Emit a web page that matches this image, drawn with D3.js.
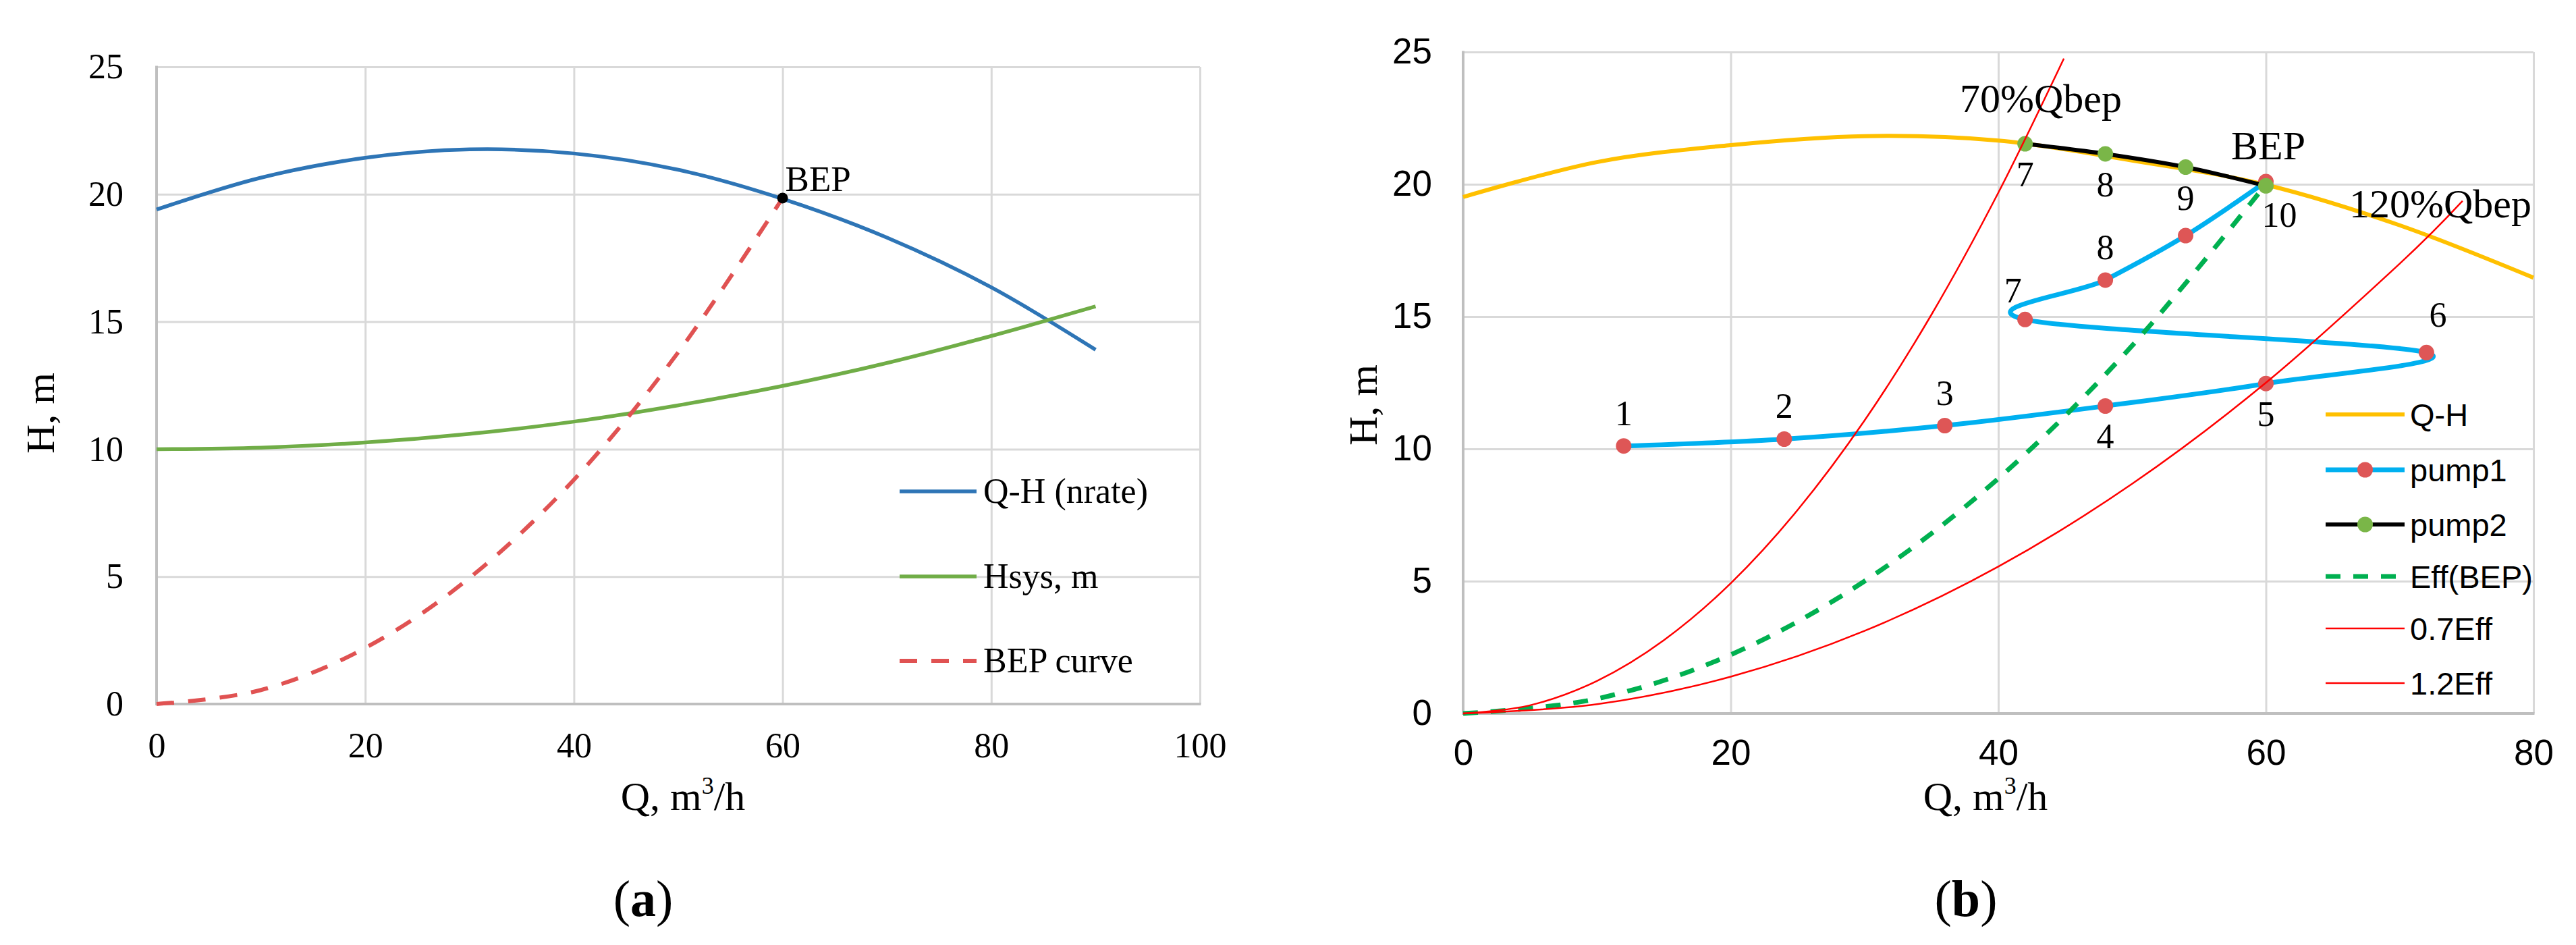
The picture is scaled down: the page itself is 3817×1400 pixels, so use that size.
<!DOCTYPE html>
<html><head><meta charset="utf-8">
<script src="https://cdn.jsdelivr.net/npm/d3@7"></script>
<style>
html,body{margin:0;padding:0;background:#fff;}
svg{display:block;}
</style></head><body>
<svg id="fig" width="3817" height="1400"></svg>
<script>
// ================= DATA : panel (a) =================
const aQ      = [0, 10, 20, 30, 40, 50, 60, 70, 80, 90];
const aQH     = [19.4, 20.65, 21.43, 21.76, 21.6, 20.96, 19.82, 18.3, 16.35, 13.9];
const aHsys   = [10.0, 10.06, 10.26, 10.6, 11.08, 11.72, 12.48, 13.38, 14.44, 15.6];
const aBepQ   = [0, 10, 20, 30, 40, 50, 60];
const aBepH   = [0, 0.55, 2.2, 4.95, 8.8, 13.8, 19.85];
const aBepPointQ = [60];
const aBepPointH = [19.85];
const aBepPointLabel = ["BEP"];
const aLegendNames = ["Q-H (nrate)", "Hsys, m", "BEP curve"];
const aXTicks = [0, 20, 40, 60, 80, 100];
const aYTicks = [0, 5, 10, 15, 20, 25];

// ================= DATA : panel (b) =================
const bQHQ    = [0, 10, 20, 30, 40, 50, 60, 70, 80];
const bQH     = [19.52, 20.84, 21.48, 21.82, 21.65, 20.9, 19.98, 18.45, 16.47];
const pump1Q  = [12, 24, 36, 48, 60, 72, 42, 48, 54, 60];
const pump1H  = [10.11, 10.37, 10.88, 11.62, 12.47, 13.64, 14.89, 16.38, 18.06, 20.1];
const pump1Labels = ["1", "2", "3", "4", "5", "6", "7", "8", "", ""];
const pump2Q  = [42, 48, 54, 60];
const pump2H  = [21.53, 21.15, 20.65, 19.94];
const pump2Labels = ["7", "8", "9", "10"];
const effQ    = [0, 10, 20, 30, 40, 50, 60];
const effH    = [0, 0.555, 2.22, 5.0, 8.88, 13.9, 20.0];
const eff07Q  = [0, 5, 10, 15, 20, 25, 30, 35, 40, 44.9];
const eff07H  = [0, 0.31, 1.23, 2.77, 4.92, 7.69, 11.07, 15.07, 19.68, 24.75];
const eff12Q  = [0, 10, 20, 30, 40, 50, 60, 70, 74.7];
const eff12H  = [0, 0.35, 1.39, 3.12, 5.55, 8.68, 12.5, 17.0, 19.37];
const bLegendNames = ["Q-H", "pump1", "pump2", "Eff(BEP)", "0.7Eff", "1.2Eff"];
const bAnnotations = ["70%Qbep", "BEP", "120%Qbep"];
const bXTicks = [0, 20, 40, 60, 80];
const bYTicks = [0, 5, 10, 15, 20, 25];

// ================= LAYOUT / STYLE =================
const SERIF = "'Liberation Serif','Times New Roman',serif";
const SANS  = "'Liberation Sans',Arial,sans-serif";
const pump1Place = ["t","t","t","b","b","tr","tl","t","",""];
const pump2Place = ["b","b","b","br"];
const placeOffset = {t:[0,-48], b:[0,46], tr:[17,-55], tl:[-18,-42], br:[20,44]};

const svg = d3.select("#fig");
const zip = (xs, ys) => xs.map((v, i) => [v, ys[i]]);

function panel(o) {
  const x = d3.scaleLinear().domain(o.xDomain).range([o.left, o.right]);
  const y = d3.scaleLinear().domain(o.yDomain).range([o.bottom, o.top]);
  const g = svg.append("g");
  // grid
  g.append("g").attr("transform", `translate(0,${o.bottom})`)
    .call(d3.axisBottom(x).tickValues(o.xTicks).tickSize(-(o.bottom - o.top)).tickFormat(""))
    .call(s => { s.select(".domain").remove(); s.selectAll("line").attr("stroke", "#D9D9D9").attr("stroke-width", 3); });
  g.append("g").attr("transform", `translate(${o.left},0)`)
    .call(d3.axisLeft(y).tickValues(o.yTicks).tickSize(-(o.right - o.left)).tickFormat(""))
    .call(s => { s.select(".domain").remove(); s.selectAll("line").attr("stroke", "#D9D9D9").attr("stroke-width", 3); });
  // axis lines
  g.append("line").attr("x1", o.left).attr("x2", o.left).attr("y1", o.top - 1.5).attr("y2", o.bottom + 2)
    .attr("stroke", "#BFBFBF").attr("stroke-width", 4);
  g.append("line").attr("x1", o.left - 2).attr("x2", o.right + 1.5).attr("y1", o.bottom).attr("y2", o.bottom)
    .attr("stroke", "#BFBFBF").attr("stroke-width", 4);
  // tick labels
  g.append("g").attr("transform", `translate(0,${o.bottom})`)
    .call(d3.axisBottom(x).tickValues(o.xTicks).tickSize(0).tickPadding(o.xPad))
    .call(s => { s.select(".domain").remove(); s.selectAll("text").attr("font-family", o.tickFont).attr("font-size", o.tickSize).attr("fill", "#000"); });
  g.append("g").attr("transform", `translate(${o.left},0)`)
    .call(d3.axisLeft(y).tickValues(o.yTicks).tickSize(0).tickPadding(o.yPad))
    .call(s => { s.select(".domain").remove(); s.selectAll("text").attr("font-family", o.tickFont).attr("font-size", o.tickSize).attr("fill", "#000"); });
  // axis titles
  const xt = g.append("text").attr("x", o.xTitleX).attr("y", o.xTitleY).attr("text-anchor", "middle")
    .attr("font-family", SERIF).attr("font-size", 60).attr("fill", "#000");
  xt.append("tspan").text("Q, m");
  xt.append("tspan").text("3").attr("font-size", 36).attr("dy", -24);
  xt.append("tspan").text("/h").attr("dy", 24);
  g.append("text").attr("transform", `translate(${o.yTitleX},${o.yTitleY}) rotate(-90)`)
    .attr("text-anchor", "middle").attr("font-family", SERIF).attr("font-size", 60).attr("fill", "#000").text("H, m");
  // panel label
  const pl = g.append("text").attr("x", o.panelX).attr("y", 1357).attr("text-anchor", "middle")
    .attr("font-family", SERIF).attr("font-size", 76).attr("fill", "#000");
  pl.append("tspan").text("(");
  pl.append("tspan").text(o.panelLetter).attr("font-weight", "bold");
  pl.append("tspan").text(")");
  return {x, y, g};
}

const smooth = d3.curveCardinal.tension(0);

// ================= PANEL (a) =================
{
  const {x, y, g} = panel({
    left: 232, right: 1778, top: 99, bottom: 1043,
    xDomain: [0, 100], yDomain: [0, 25], xTicks: aXTicks, yTicks: aYTicks,
    tickFont: SERIF, tickSize: 52, xPad: 42, yPad: 49,
    xTitleX: 1012, xTitleY: 1200, yTitleX: 80, yTitleY: 612, panelX: 953, panelLetter: "a"
  });
  const line = d3.line().x(d => x(d[0])).y(d => y(d[1])).curve(smooth);
  const series = [
    {data: zip(aQ, aQH), color: "#2E75B6", w: 5.5, dash: null},
    {data: zip(aQ, aHsys), color: "#70AD47", w: 5.5, dash: null},
    {data: zip(aBepQ, aBepH), color: "#E05252", w: 6, dash: "26,21"}
  ];
  series.forEach(s => g.append("path").attr("d", line(s.data)).attr("fill", "none")
    .attr("stroke", s.color).attr("stroke-width", s.w).attr("stroke-dasharray", s.dash));
  g.selectAll(".bep").data(zip(aBepPointQ, aBepPointH)).join("circle")
    .attr("cx", d => x(d[0])).attr("cy", d => y(d[1])).attr("r", 8).attr("fill", "#000");
  g.selectAll(".beplab").data(aBepPointLabel).join("text")
    .attr("x", (d, i) => x(aBepPointQ[i]) + 4).attr("y", (d, i) => y(aBepPointH[i]) - 10)
    .attr("font-family", SERIF).attr("font-size", 53).attr("fill", "#000").text(d => d);
  // legend
  const legRows = [728, 854, 979];
  aLegendNames.forEach((name, i) => {
    const s = series[i];
    g.append("line").attr("x1", 1333).attr("x2", 1447).attr("y1", legRows[i]).attr("y2", legRows[i])
      .attr("stroke", s.color).attr("stroke-width", s.w).attr("stroke-dasharray", s.dash);
    g.append("text").attr("x", 1457).attr("y", legRows[i] + 17).attr("font-family", SERIF)
      .attr("font-size", 52).attr("fill", "#000").text(name);
  });
}

// ================= PANEL (b) =================
{
  const {x, y, g} = panel({
    left: 2168, right: 3754, top: 77, bottom: 1057,
    xDomain: [0, 80], yDomain: [0, 25], xTicks: bXTicks, yTicks: bYTicks,
    tickFont: SANS, tickSize: 53, xPad: 38, yPad: 46,
    xTitleX: 2942, xTitleY: 1200, yTitleX: 2040, yTitleY: 600, panelX: 2913, panelLetter: "b"
  });
  const line = d3.line().x(d => x(d[0])).y(d => y(d[1])).curve(smooth);
  const series = [
    {data: zip(bQHQ, bQH), color: "#FFC000", w: 6, dash: null},
    {data: zip(pump1Q, pump1H), color: "#00B0F0", w: 7, dash: null, marker: "#DE5656"},
    {data: zip(pump2Q, pump2H), color: "#000000", w: 6, dash: null, marker: "#7AB648"},
    {data: zip(effQ, effH), color: "#00B050", w: 7, dash: "22,19"},
    {data: zip(eff07Q, eff07H), color: "#FF0000", w: 2.5, dash: null},
    {data: zip(eff12Q, eff12H), color: "#FF0000", w: 2.5, dash: null}
  ];
  series.forEach(s => {
    g.append("path").attr("d", line(s.data)).attr("fill", "none")
      .attr("stroke", s.color).attr("stroke-width", s.w).attr("stroke-dasharray", s.dash);
    if (s.marker) {
      g.append("g").selectAll("circle").data(s.data).join("circle")
        .attr("cx", d => x(d[0])).attr("cy", d => y(d[1])).attr("r", 11.5).attr("fill", s.marker);
    }
  });
  // point labels
  const drawLabels = (qs, hs, labels, place) => {
    labels.forEach((t, i) => {
      if (!t) return;
      const off = placeOffset[place[i]];
      g.append("text").attr("x", x(qs[i]) + off[0]).attr("y", y(hs[i]) + off[1] + 17)
        .attr("text-anchor", "middle").attr("font-family", SERIF).attr("font-size", 52)
        .attr("fill", "#000").text(t);
    });
  };
  drawLabels(pump1Q, pump1H, pump1Labels, pump1Place);
  drawLabels(pump2Q, pump2H, pump2Labels, pump2Place);
  // annotations
  const annPos = [[2904, 166], [3306, 236], [3481, 322]];
  bAnnotations.forEach((t, i) => g.append("text").attr("x", annPos[i][0]).attr("y", annPos[i][1])
    .attr("font-family", SERIF).attr("font-size", 60).attr("fill", "#000").text(t));
  // legend
  const legRows = [614, 696, 777, 854, 931, 1012];
  bLegendNames.forEach((name, i) => {
    const s = series[i];
    g.append("line").attr("x1", 3446).attr("x2", 3563).attr("y1", legRows[i]).attr("y2", legRows[i])
      .attr("stroke", s.color).attr("stroke-width", s.w).attr("stroke-dasharray", s.dash);
    if (s.marker) g.append("circle").attr("cx", 3504.5).attr("cy", legRows[i]).attr("r", 11.5).attr("fill", s.marker);
    g.append("text").attr("x", 3571).attr("y", legRows[i] + 17).attr("font-family", SANS)
      .attr("font-size", 47).attr("fill", "#000").text(name);
  });
}
</script>
</body></html>
